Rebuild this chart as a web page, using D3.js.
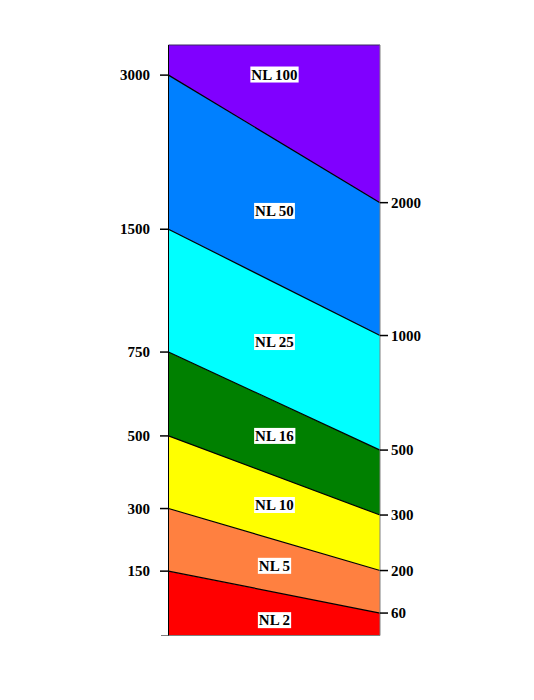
<script src="https://d3js.org/d3.v7.min.js"></script>
<style>
  body { margin: 0; background: #fff; }
  text { font-family: "Liberation Serif", "Times New Roman", serif; font-weight: bold; font-size: 15px; }
</style>
<div id="chart"></div>
<script>
  // layers, bottom to top
  var layerNames = ["NL 2", "NL 5", "NL 10", "NL 16", "NL 25", "NL 50", "NL 100"];
  var layerColors = ["#ff0000", "#ff8040", "#ffff00", "#008000", "#00ffff", "#0080ff", "#8000ff"];
  // boundary labels on the left and right edge
  var leftTicks = [150, 300, 500, 750, 1500, 3000];
  var rightTicks = [60, 200, 300, 500, 1000, 2000];
  // where each boundary sits (percent of chart height)
  var leftLevels = [10.9, 21.5, 33.8, 48.0, 68.8, 94.9];
  var rightLevels = [3.8, 11.0, 20.4, 31.4, 50.8, 73.3];
  // where each layer name sits
  var labelLevels = [2.6, 11.8, 22.1, 33.8, 49.7, 71.9, 95.0];

  var width = 534, height = 700;

  var svg = d3.select("#chart")
    .append("svg")
    .attr("width", width)
    .attr("height", height);

  var x = d3.scaleLinear().domain([0, 1]).range([168.5, 380]);
  var y = d3.scaleLinear().domain([0, 100]).range([635.5, 45]);

  // build layers from the boundaries
  var lows = [[0, 0]].concat(leftLevels.map(function(d, i) { return [d, rightLevels[i]]; }));
  var highs = leftLevels.map(function(d, i) { return [d, rightLevels[i]]; }).concat([[100, 100]]);

  var area = d3.area()
    .x(function(d) { return x(d.t); })
    .y0(function(d) { return y(d.lo); })
    .y1(function(d) { return y(d.hi); });

  layerNames.forEach(function(name, i) {
    var pts = [
      { t: 0, lo: lows[i][0], hi: highs[i][0] },
      { t: 1, lo: lows[i][1], hi: highs[i][1] }
    ];
    svg.append("path")
      .attr("d", area(pts))
      .attr("fill", layerColors[i]);
  });

  // boundary lines
  leftLevels.forEach(function(d, i) {
    svg.append("line")
      .attr("x1", x(0)).attr("y1", y(d))
      .attr("x2", x(1)).attr("y2", y(rightLevels[i]))
      .style("stroke", "#000")
      .style("stroke-width", 1.2);
  });

  // frame
  svg.append("line")
    .attr("x1", x(0)).attr("y1", y(100)).attr("x2", x(1)).attr("y2", y(100))
    .style("stroke", "#3a2a60").style("stroke-width", 1);
  svg.append("line")
    .attr("x1", x(1)).attr("y1", y(100)).attr("x2", x(1)).attr("y2", y(0))
    .style("stroke", "#808080").style("stroke-width", 1);
  svg.append("line")
    .attr("x1", 161).attr("y1", y(0)).attr("x2", x(1)).attr("y2", y(0))
    .style("stroke", "#808080").style("stroke-width", 1);
  svg.append("line")
    .attr("x1", x(0)).attr("y1", y(100)).attr("x2", x(0)).attr("y2", y(0))
    .style("stroke", "#000").style("stroke-width", 1);

  // left ticks
  leftTicks.forEach(function(v, i) {
    svg.append("line")
      .attr("x1", 160).attr("x2", x(0))
      .attr("y1", y(leftLevels[i])).attr("y2", y(leftLevels[i]))
      .style("stroke", "#000").style("stroke-width", 1.5);
    svg.append("text")
      .attr("x", 150).attr("y", y(leftLevels[i]))
      .attr("dy", "0.35em")
      .attr("text-anchor", "end")
      .text(v);
  });

  // right ticks
  rightTicks.forEach(function(v, i) {
    svg.append("line")
      .attr("x1", x(1)).attr("x2", 388)
      .attr("y1", y(rightLevels[i])).attr("y2", y(rightLevels[i]))
      .style("stroke", "#000").style("stroke-width", 1.5);
    svg.append("text")
      .attr("x", 391).attr("y", y(rightLevels[i]))
      .attr("dy", "0.35em")
      .text(v);
  });

  // layer names in white boxes
  layerNames.forEach(function(name, i) {
    var g = svg.append("g");
    var t = g.append("text")
      .attr("x", 274.5).attr("y", y(labelLevels[i]))
      .attr("dy", "0.35em")
      .attr("text-anchor", "middle")
      .text(name);
    var bb = t.node().getBBox();
    g.insert("rect", "text")
      .attr("x", bb.x - 1).attr("y", y(labelLevels[i]) - 8)
      .attr("width", bb.width + 2).attr("height", 16)
      .attr("fill", "#fff");
  });
</script>
